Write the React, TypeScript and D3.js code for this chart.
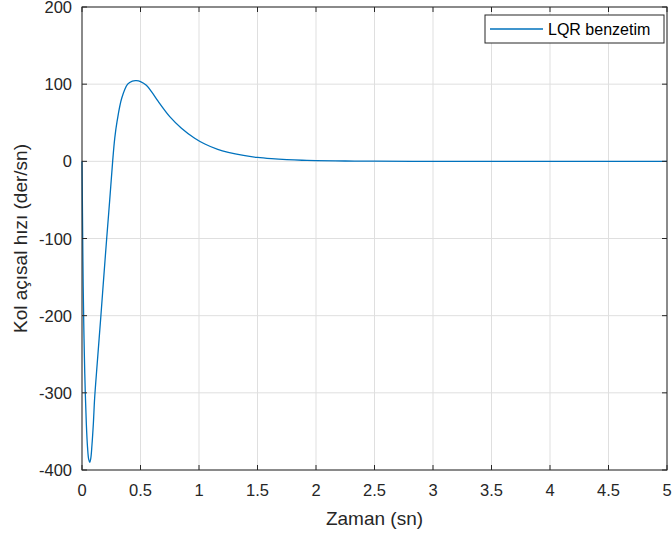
import React from "react";
import * as d3 from "d3";

const times = [0, 0.003, 0.006, 0.01, 0.015, 0.02, 0.028, 0.037, 0.047, 0.057, 0.066, 0.075, 0.085, 0.097, 0.108, 0.13, 0.16, 0.185, 0.211, 0.237, 0.262, 0.28, 0.3, 0.34, 0.39, 0.43, 0.465, 0.5, 0.55, 0.6, 0.65, 0.75, 0.85, 0.963, 1.05, 1.16, 1.25, 1.38, 1.5, 1.62, 1.75, 1.88, 2.0, 2.25, 2.5, 3.0, 3.5, 4.0, 4.5, 5.0];
const values = [0, -50, -100, -160, -210, -250, -300, -340, -370, -386, -390, -385, -368, -340, -307, -262, -203, -152, -100, -50, 0, 30, 52, 82, 100, 104, 104.5, 103.3, 98.5, 89, 78, 58, 43, 30, 22.5, 15.5, 11.6, 7.6, 5, 3.4, 2.2, 1.4, 1, 0.43, 0.19, 0.04, 0, 0, 0, 0];

const xTicks = [0, 0.5, 1, 1.5, 2, 2.5, 3, 3.5, 4, 4.5, 5];
const yTicks = [-400, -300, -200, -100, 0, 100, 200];
const legendLabel = "LQR benzetim";
const xLabel = "Zaman (sn)";
const yLabel = "Kol açısal hızı (der/sn)";

export default function App() {
  const W = 672, H = 535;
  const L = 82, R = 667, T = 7, B = 470;
  const x = d3.scaleLinear().domain([0, 5]).range([L, R]);
  const y = d3.scaleLinear().domain([-400, 200]).range([B, T]);
  const line = d3
    .line<number>()
    .x((_, i) => x(times[i]))
    .y((d) => y(d))
    .curve(d3.curveCatmullRom.alpha(0.5));
  const axisColor = "#262626";
  const font = "'Liberation Sans', Arial, Helvetica, sans-serif";
  return (
    <svg width={W} height={H} style={{ position: "absolute", left: 0, top: 0, background: "#fff" }} fontFamily={font}>
      <rect x={0} y={0} width={W} height={H} fill="#fff" />
      {xTicks.map((t) => (
        <line key={"gx" + t} x1={x(t)} x2={x(t)} y1={T} y2={B} stroke="#dfdfdf" strokeWidth={1} />
      ))}
      {yTicks.map((t) => (
        <line key={"gy" + t} x1={L} x2={R} y1={y(t)} y2={y(t)} stroke="#dfdfdf" strokeWidth={1} />
      ))}
      <path d={line(values) || ""} fill="none" stroke="#0072BD" strokeWidth={1.3} />
      <rect x={L} y={T} width={R - L} height={B - T} fill="none" stroke={axisColor} strokeWidth={1} />
      {xTicks.map((t) => (
        <g key={"tx" + t}>
          <line x1={x(t)} x2={x(t)} y1={B} y2={B - 5} stroke={axisColor} />
          <line x1={x(t)} x2={x(t)} y1={T} y2={T + 5} stroke={axisColor} />
          <text x={x(t)} y={B + 26} textAnchor="middle" fontSize={16.5} fill={axisColor}>{t}</text>
        </g>
      ))}
      {yTicks.map((t) => (
        <g key={"ty" + t}>
          <line x1={L} x2={L + 5} y1={y(t)} y2={y(t)} stroke={axisColor} />
          <line x1={R} x2={R - 5} y1={y(t)} y2={y(t)} stroke={axisColor} />
          <text x={L - 10} y={y(t) + 6} textAnchor="end" fontSize={16.5} fill={axisColor}>{t}</text>
        </g>
      ))}
      <text x={(L + R) / 2} y={525} textAnchor="middle" fontSize={19} fill={axisColor}>{xLabel}</text>
      <text transform={`translate(27,${(T + B) / 2}) rotate(-90)`} textAnchor="middle" fontSize={19} fill={axisColor}>{yLabel}</text>
      <g>
        <rect x={485} y={15} width={179} height={28} fill="#fff" stroke={axisColor} strokeWidth={1} />
        <line x1={490} x2={543} y1={29} y2={29} stroke="#0072BD" strokeWidth={1.3} />
        <text x={548} y={35} fontSize={16} fill="#000">{legendLabel}</text>
      </g>
    </svg>
  );
}
